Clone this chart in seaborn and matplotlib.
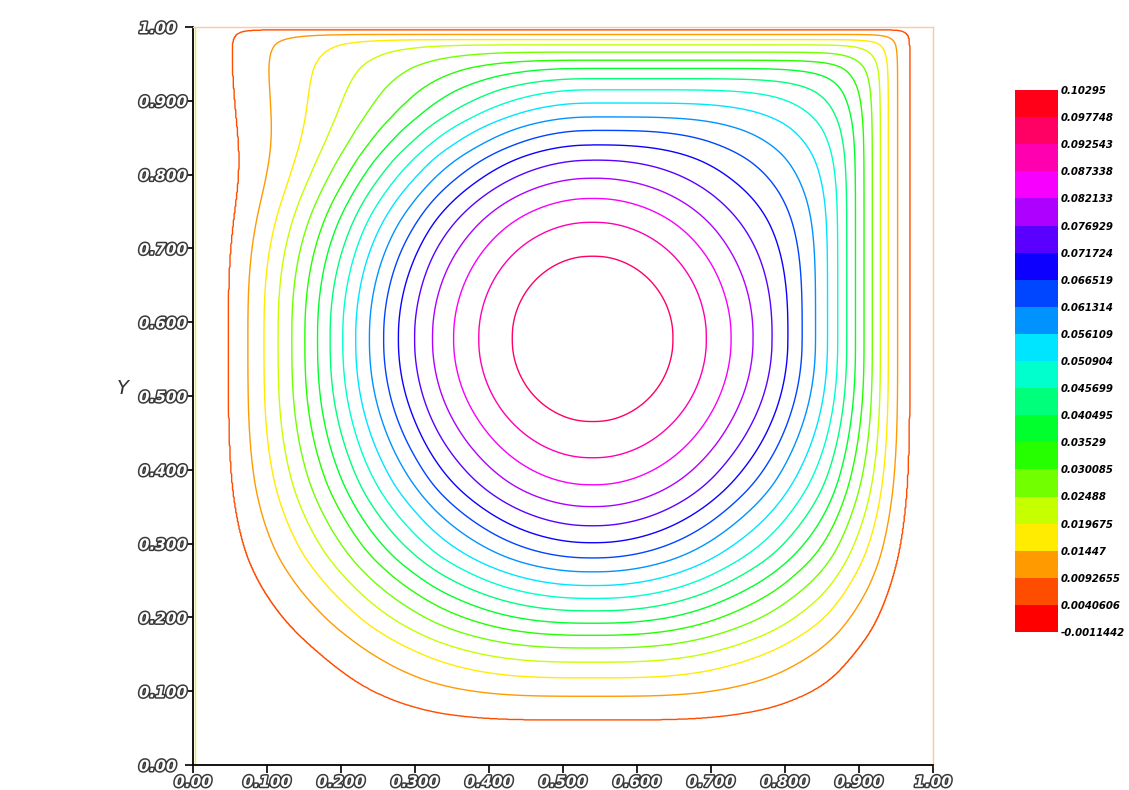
import numpy as np
import matplotlib
matplotlib.use("Agg")
import matplotlib.pyplot as plt
import matplotlib.patheffects as pe
from matplotlib.colors import ListedColormap, BoundaryNorm
from matplotlib.colorbar import ColorbarBase
import seaborn as sns

sns.set_theme(style="white")
plt.rcParams["font.family"] = ["DejaVu Sans"]

# stream function levels shown on the colour bar
psi_levels = [-0.0011442, 0.0040606, 0.0092655, 0.01447, 0.019675, 0.02488,
              0.030085, 0.03529, 0.040495, 0.045699, 0.050904, 0.056109,
              0.061314, 0.066519, 0.071724, 0.076929, 0.082133, 0.087338,
              0.092543, 0.097748, 0.10295]
psi_labels = ["-0.0011442", "0.0040606", "0.0092655", "0.01447", "0.019675",
              "0.02488", "0.030085", "0.03529", "0.040495", "0.045699",
              "0.050904", "0.056109", "0.061314", "0.066519", "0.071724",
              "0.076929", "0.082133", "0.087338", "0.092543", "0.097748",
              "0.10295"]
psi_max = 0.10295
vortex_center = (0.54, 0.578)

# where the streamlines 0.0040606 ... 0.092543 cross the lines through the vortex centre
cross_left = [0.048, 0.074, 0.096, 0.115, 0.134, 0.151, 0.169, 0.185, 0.203,
              0.220, 0.238, 0.258, 0.277, 0.300, 0.323, 0.352, 0.386, 0.431]
cross_right = [0.968, 0.952, 0.939, 0.929, 0.919, 0.907, 0.895, 0.883, 0.872,
               0.858, 0.842, 0.823, 0.804, 0.783, 0.757, 0.727, 0.694, 0.649]
cross_bottom = [0.061, 0.0935, 0.118, 0.140, 0.159, 0.176, 0.192, 0.209, 0.226,
                0.243, 0.262, 0.280, 0.301, 0.324, 0.350, 0.379, 0.416, 0.465]
cross_top = [0.997, 0.990, 0.983, 0.976, 0.966, 0.955, 0.944, 0.930, 0.915,
             0.897, 0.878, 0.860, 0.840, 0.820, 0.795, 0.768, 0.736, 0.690]

# how square the outer streamlines get in each corner (round near the centre)
square_bottom = 1.8
square_top_left = 1.0
bulge_top_left = 25.0
square_top_right = 28.0
square_start = 0.3

tick_vals = [0.0, 0.1, 0.2, 0.3, 0.4, 0.5, 0.6, 0.7, 0.8, 0.9, 1.0]
tick_text = ["0.00", "0.100", "0.200", "0.300", "0.400", "0.500",
             "0.600", "0.700", "0.800", "0.900", "1.00"]


def smooth(v, width):
    """Gaussian smoothing of a 1-D profile, edges held."""
    k = np.arange(-4 * width, 4 * width + 1)
    kern = np.exp(-0.5 * (k / width) ** 2)
    kern /= kern.sum()
    pad = np.pad(v, len(k) // 2, mode="edge")
    return np.convolve(pad, kern, mode="valid")


# ---------------------------------------------------------------------------
# stream function field rebuilt from the centre-line crossings
# ---------------------------------------------------------------------------
xc, yc = vortex_center
line_levels = np.array(psi_levels[1:19])
cl, cr = np.array(cross_left), np.array(cross_right)
cbt, ctp = np.array(cross_bottom), np.array(cross_top)
s_lev = ((xc - cl) + (cr - xc) + (yc - cbt) + (ctp - yc)) / 4
s0 = s_lev[0]

row_x = np.r_[0.0, cl, xc, cr[::-1], 1.0]
col_y = np.r_[0.0, cbt, yc, ctp[::-1], 1.0]
prof_s = np.r_[s0 + 0.04, s_lev, 0.0, s_lev[::-1], s0 + 0.04] / s0

x = np.linspace(0, 1, 901)
y = np.linspace(0, 1, 1801)
sx = smooth(np.interp(x, row_x, prof_s), 12)
sy_raw = np.interp(y, col_y, prof_s)
w_top = np.clip((y - 0.8) / 0.1, 0, 1)
sy = (1 - w_top) * smooth(sy_raw, 20) + w_top * smooth(sy_raw, 3)
SX, SY = np.meshgrid(sx, sy)
X, Y = np.meshgrid(x, y)
upper = Y >= yc
left = X < xc

rho = np.hypot(SX, SY)
for _ in range(18):
    lev = np.clip((rho - square_start) / (1 - square_start), 0, 1)
    t = SY / np.maximum(rho, 1e-9)
    p_tl = 2 + square_top_left * lev ** 4 + bulge_top_left * lev ** 13 * t ** 5.4
    p = np.where(upper,
                 np.where(left, p_tl, 2 + square_top_right * lev ** 4),
                 2 + square_bottom * lev ** 4)
    rho = 0.5 * rho + 0.5 * (SX ** p + SY ** p) ** (1 / p)
psi = np.interp(rho * s0, np.r_[0.0, s_lev[::-1], 2.0],
                np.r_[psi_max, line_levels[::-1], psi_levels[0]])

band_colors = plt.get_cmap("hsv")(np.linspace(0, 1, 20))

# ---------------------------------------------------------------------------
# figure
# ---------------------------------------------------------------------------
fig = plt.figure(figsize=(11.29, 7.90), dpi=100)
ax = fig.add_axes([193 / 1129, 25 / 790, 740 / 1129, 738 / 790])
ax.contour(x, y, psi, levels=line_levels, colors=band_colors[1:19], linewidths=1.0)
ax.set_xlim(0, 1)
ax.set_ylim(0, 1)

for side in ["left", "bottom"]:
    ax.spines[side].set_color("black")
    ax.spines[side].set_linewidth(1.3)
ax.spines["left"].set_path_effects(
    [pe.Stroke(offset=(1.3, 0), linewidth=1.0, foreground="#EEEE30"), pe.Normal()])
for side in ["top", "right"]:
    ax.spines[side].set_color("#FFC8A0")
    ax.spines[side].set_linewidth(1.0)

shadow = [pe.withStroke(linewidth=2.2, foreground="#3a3a3a")]
ax.set_xticks(tick_vals)
ax.set_xticklabels(tick_text)
ax.set_yticks(tick_vals)
ax.set_yticklabels(tick_text)
ax.tick_params(axis="both", direction="out", length=6, width=1.2, color="black",
               bottom=True, left=True)
ax.tick_params(axis="x", pad=1)
ax.tick_params(axis="y", pad=33)
for lbl in ax.get_xticklabels() + ax.get_yticklabels():
    lbl.set_fontsize(11)
    lbl.set_fontstyle("italic")
    lbl.set_fontweight("bold")
    lbl.set_color("white")
    lbl.set_path_effects(shadow)
for lbl in ax.get_yticklabels():
    lbl.set_ha("left")

ax.set_ylabel("Y", rotation=0, fontsize=14, fontstyle="italic", color="#333333")
ax.yaxis.set_label_coords(-0.095, 0.497)

# colour bar
cax = fig.add_axes([1015 / 1129, 158 / 790, 43 / 1129, 542 / 790])
cb = ColorbarBase(cax, cmap=ListedColormap(band_colors),
                  norm=BoundaryNorm(psi_levels, 20), ticks=psi_levels,
                  spacing="uniform")
cb.outline.set_visible(False)
cb.set_ticklabels(psi_labels)
cax.tick_params(length=0, pad=2)
for lbl in cax.get_yticklabels():
    lbl.set_fontsize(7.3)
    lbl.set_fontstyle("italic")
    lbl.set_fontweight("bold")
    lbl.set_color("black")

fig.savefig("out.png", dpi=100)
